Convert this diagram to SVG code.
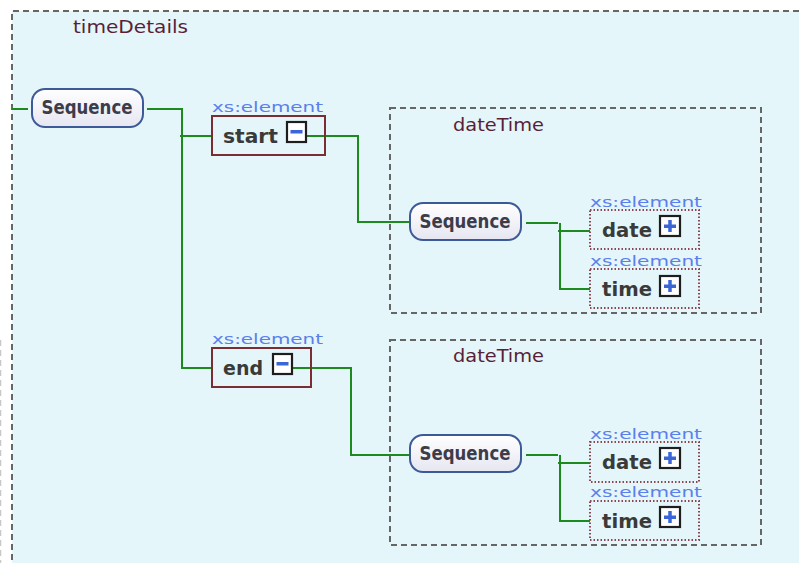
<svg xmlns="http://www.w3.org/2000/svg" width="799" height="563" viewBox="0 0 799 563">
  <defs>
    <linearGradient id="seqFill" x1="0" y1="0" x2="0" y2="1">
      <stop offset="0" stop-color="#ffffff"/>
      <stop offset="1" stop-color="#e6e6f2"/>
    </linearGradient>
    <!-- expand / collapse buttons -->
    <g id="btnMinus">
      <rect x="1" y="1" width="19" height="20" fill="#ffffff" stroke="#1e1e1e" stroke-width="2.2"/>
      <rect x="4.5" y="9" width="12" height="3.5" fill="#3a66d8"/>
    </g>
    <g id="btnPlus">
      <rect x="1" y="1" width="20" height="20" fill="#ffffff" stroke="#1e1e1e" stroke-width="2.2"/>
      <rect x="5" y="9.5" width="12" height="3.5" fill="#3a66d8"/>
      <rect x="9.25" y="5" width="3.5" height="12" fill="#3a66d8"/>
    </g>
  </defs>
  <style>
    .frame { fill: none; stroke: #666666; stroke-width: 2; stroke-dasharray: 6 4; }
    .ctype { font-family: "DejaVu Sans", Verdana, sans-serif; font-size: 17px; fill: #5a1f38; }
    .kind { font-family: "DejaVu Sans", Verdana, sans-serif; font-size: 14px; fill: #5b80ec; }
    .name { font-family: "DejaVu Sans", Verdana, sans-serif; font-size: 20px; font-weight: bold; fill: #3a3a3a; }
    .seq rect { fill: url(#seqFill); stroke: #3d5a98; stroke-width: 2; }
    .seq text { font-family: "DejaVu Sans Condensed", "DejaVu Sans", Verdana, sans-serif; font-size: 19px; font-weight: bold; fill: #3c3c4a; text-anchor: middle; }
    .elem { fill: none; stroke: #7a2e34; stroke-width: 2; }
    .ref { fill: none; stroke: #8a4652; stroke-width: 2; stroke-dasharray: 1.5 2; }
    .wire { fill: none; stroke: #1c8a1c; stroke-width: 2; }
  </style>

  <rect x="0" y="0" width="799" height="563" fill="#ffffff"/>
  <line x1="0.5" y1="340" x2="0.5" y2="563" stroke="#c8c8c8" stroke-width="1.5" stroke-dasharray="6 4"/>

  <!-- outer complex type: timeDetails -->
  <g id="timeDetails">
    <rect x="12" y="11" width="800" height="570" fill="#e4f6f9"/>
    <path class="frame" d="M12 570 V11 H799"/>
    <text class="ctype" x="73" y="33" textLength="115" lengthAdjust="spacingAndGlyphs">timeDetails</text>
  </g>

  <!-- dateTime frames -->
  <g id="dateTime1">
    <rect class="frame" x="390" y="108" width="371" height="205"/>
    <text class="ctype" x="453" y="131" textLength="91" lengthAdjust="spacingAndGlyphs">dateTime</text>
  </g>
  <g id="dateTime2">
    <rect class="frame" x="390" y="340" width="371" height="205"/>
    <text class="ctype" x="453" y="362" textLength="91" lengthAdjust="spacingAndGlyphs">dateTime</text>
  </g>

  <!-- connectors -->
  <g id="connectors">
    <path class="wire" d="M12 109 H28"/>
    <path class="wire" d="M147 109 H182 V368 H212 M180 136 H212"/>
    <path class="wire" d="M307 136 H358 V222 H410"/>
    <path class="wire" d="M293 368 H351 V455 H410"/>
    <path class="wire" d="M526 223 H558 M560 223 V289 H590 M558 231 H590"/>
    <path class="wire" d="M526 455 H558 M560 455 V521 H590 M558 463 H590"/>
  </g>

  <!-- sequences -->
  <g id="seqRoot" class="seq">
    <rect x="32" y="89" width="111" height="38" rx="13"/>
    <text x="87" y="114" textLength="91" lengthAdjust="spacingAndGlyphs">Sequence</text>
  </g>
  <g id="seqStart" class="seq">
    <rect x="410" y="203" width="111" height="37" rx="13"/>
    <text x="465" y="228" textLength="91" lengthAdjust="spacingAndGlyphs">Sequence</text>
  </g>
  <g id="seqEnd" class="seq">
    <rect x="410" y="435" width="111" height="37" rx="13"/>
    <text x="465" y="460" textLength="91" lengthAdjust="spacingAndGlyphs">Sequence</text>
  </g>

  <!-- elements -->
  <g id="start">
    <text class="kind" x="212" y="112" textLength="111" lengthAdjust="spacingAndGlyphs">xs:element</text>
    <rect class="elem" x="212" y="116" width="113" height="39"/>
    <text class="name" x="223" y="143" textLength="55" lengthAdjust="spacingAndGlyphs">start</text>
    <use href="#btnMinus" x="286" y="121"/>
  </g>
  <g id="end">
    <text class="kind" x="212" y="344" textLength="111" lengthAdjust="spacingAndGlyphs">xs:element</text>
    <rect class="elem" x="212" y="348" width="99" height="39"/>
    <text class="name" x="223" y="375" textLength="40" lengthAdjust="spacingAndGlyphs">end</text>
    <use href="#btnMinus" x="272" y="353"/>
  </g>

  <g id="date1">
    <text class="kind" x="590" y="207" textLength="112" lengthAdjust="spacingAndGlyphs">xs:element</text>
    <rect class="ref" x="590" y="210" width="109" height="39"/>
    <text class="name" x="602" y="237" textLength="50" lengthAdjust="spacingAndGlyphs">date</text>
    <use href="#btnPlus" x="659" y="215"/>
  </g>
  <g id="time1">
    <text class="kind" x="590" y="266" textLength="112" lengthAdjust="spacingAndGlyphs">xs:element</text>
    <rect class="ref" x="590" y="269" width="109" height="39"/>
    <text class="name" x="602" y="296" textLength="50" lengthAdjust="spacingAndGlyphs">time</text>
    <use href="#btnPlus" x="659" y="275"/>
  </g>
  <g id="date2">
    <text class="kind" x="590" y="439" textLength="112" lengthAdjust="spacingAndGlyphs">xs:element</text>
    <rect class="ref" x="590" y="442" width="109" height="40"/>
    <text class="name" x="602" y="469" textLength="50" lengthAdjust="spacingAndGlyphs">date</text>
    <use href="#btnPlus" x="659" y="447"/>
  </g>
  <g id="time2">
    <text class="kind" x="590" y="497" textLength="112" lengthAdjust="spacingAndGlyphs">xs:element</text>
    <rect class="ref" x="590" y="501" width="109" height="39"/>
    <text class="name" x="602" y="528" textLength="50" lengthAdjust="spacingAndGlyphs">time</text>
    <use href="#btnPlus" x="659" y="506"/>
  </g>
</svg>
